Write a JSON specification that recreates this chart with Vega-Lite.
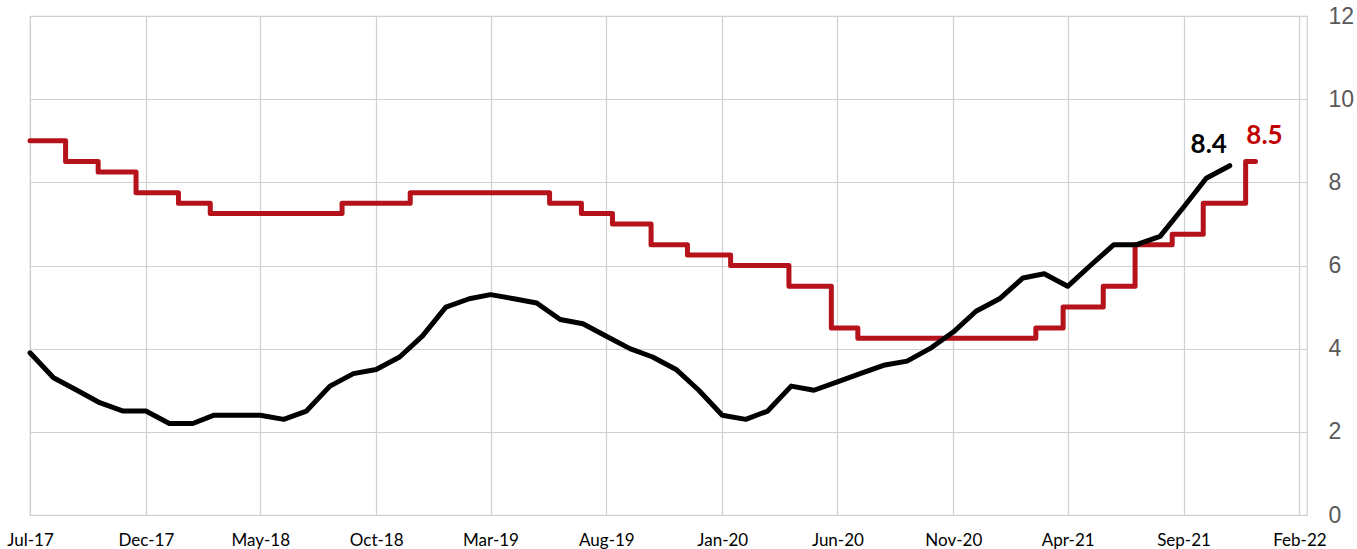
{
  "$schema": "https://vega.github.io/schema/vega-lite/v6.json",
  "width": 1277,
  "height": 499,
  "autosize": {"type": "none"},
  "padding": {"left": 30, "top": 16, "right": 50, "bottom": 34},
  "background": "white",
  "config": {
    "view": {"stroke": "#D0D0D0", "strokeWidth": 1.2},
    "axis": {"gridColor": "#D0D0D0", "gridWidth": 1.2}
  },
  "datasets": {
    "cpi": [
      {"date": "2017-07-01", "value": 3.9}, {"date": "2017-08-01", "value": 3.3}, {"date": "2017-09-01", "value": 3.0},
      {"date": "2017-10-01", "value": 2.7}, {"date": "2017-11-01", "value": 2.5}, {"date": "2017-12-01", "value": 2.5},
      {"date": "2018-01-01", "value": 2.2}, {"date": "2018-02-01", "value": 2.2}, {"date": "2018-03-01", "value": 2.4},
      {"date": "2018-04-01", "value": 2.4}, {"date": "2018-05-01", "value": 2.4}, {"date": "2018-06-01", "value": 2.3},
      {"date": "2018-07-01", "value": 2.5}, {"date": "2018-08-01", "value": 3.1}, {"date": "2018-09-01", "value": 3.4},
      {"date": "2018-10-01", "value": 3.5}, {"date": "2018-11-01", "value": 3.8}, {"date": "2018-12-01", "value": 4.3},
      {"date": "2019-01-01", "value": 5.0}, {"date": "2019-02-01", "value": 5.2}, {"date": "2019-03-01", "value": 5.3},
      {"date": "2019-04-01", "value": 5.2}, {"date": "2019-05-01", "value": 5.1}, {"date": "2019-06-01", "value": 4.7},
      {"date": "2019-07-01", "value": 4.6}, {"date": "2019-08-01", "value": 4.3}, {"date": "2019-09-01", "value": 4.0},
      {"date": "2019-10-01", "value": 3.8}, {"date": "2019-11-01", "value": 3.5}, {"date": "2019-12-01", "value": 3.0},
      {"date": "2020-01-01", "value": 2.4}, {"date": "2020-02-01", "value": 2.3}, {"date": "2020-03-01", "value": 2.5},
      {"date": "2020-04-01", "value": 3.1}, {"date": "2020-05-01", "value": 3.0}, {"date": "2020-06-01", "value": 3.2},
      {"date": "2020-07-01", "value": 3.4}, {"date": "2020-08-01", "value": 3.6}, {"date": "2020-09-01", "value": 3.7},
      {"date": "2020-10-01", "value": 4.0}, {"date": "2020-11-01", "value": 4.4}, {"date": "2020-12-01", "value": 4.9},
      {"date": "2021-01-01", "value": 5.2}, {"date": "2021-02-01", "value": 5.7}, {"date": "2021-03-01", "value": 5.8},
      {"date": "2021-04-01", "value": 5.5}, {"date": "2021-05-01", "value": 6.0}, {"date": "2021-06-01", "value": 6.5},
      {"date": "2021-07-01", "value": 6.5}, {"date": "2021-08-01", "value": 6.7}, {"date": "2021-09-01", "value": 7.4},
      {"date": "2021-10-01", "value": 8.1}, {"date": "2021-11-01", "value": 8.4}
    ],
    "rate": [
      {"date": "2017-07-01", "value": 9.0}, {"date": "2017-08-17", "value": 8.5}, {"date": "2017-09-29", "value": 8.25},
      {"date": "2017-11-18", "value": 7.75}, {"date": "2018-01-13", "value": 7.5}, {"date": "2018-02-24", "value": 7.25},
      {"date": "2018-08-17", "value": 7.5}, {"date": "2018-11-15", "value": 7.75}, {"date": "2019-05-18", "value": 7.5},
      {"date": "2019-06-29", "value": 7.25}, {"date": "2019-08-09", "value": 7.0}, {"date": "2019-09-29", "value": 6.5},
      {"date": "2019-11-16", "value": 6.25}, {"date": "2020-01-12", "value": 6.0}, {"date": "2020-03-29", "value": 5.5},
      {"date": "2020-05-24", "value": 4.5}, {"date": "2020-06-28", "value": 4.25}, {"date": "2021-02-18", "value": 4.5},
      {"date": "2021-03-26", "value": 5.0}, {"date": "2021-05-18", "value": 5.5}, {"date": "2021-06-29", "value": 6.5},
      {"date": "2021-08-17", "value": 6.75}, {"date": "2021-09-27", "value": 7.5}, {"date": "2021-11-22", "value": 8.5},
      {"date": "2021-12-05", "value": 8.5}
    ],
    "labels": [
      {"date": "2021-11-01", "value": 8.4, "label": "8.4", "series": "cpi"},
      {"date": "2021-12-05", "value": 8.5, "label": "8.5", "series": "rate"}
    ]
  },
  "encoding": {
    "x": {
      "field": "date", "type": "temporal",
      "scale": {"type": "utc", "domain": [{"year": 2017, "month": 7, "date": 1, "utc": true}, {"year": 2022, "month": 2, "date": 11, "utc": true}]},
      "axis": {
        "title": null, "orient": "bottom",
        "labelExpr": "utcFormat(datum.value, '%b-%y')",
        "values": [
          {"year": 2017, "month": 7, "date": 1, "utc": true}, {"year": 2017, "month": 12, "date": 1, "utc": true},
          {"year": 2018, "month": 5, "date": 1, "utc": true}, {"year": 2018, "month": 10, "date": 1, "utc": true},
          {"year": 2019, "month": 3, "date": 1, "utc": true}, {"year": 2019, "month": 8, "date": 1, "utc": true},
          {"year": 2020, "month": 1, "date": 1, "utc": true}, {"year": 2020, "month": 6, "date": 1, "utc": true},
          {"year": 2020, "month": 11, "date": 1, "utc": true}, {"year": 2021, "month": 4, "date": 1, "utc": true},
          {"year": 2021, "month": 9, "date": 1, "utc": true}, {"year": 2022, "month": 2, "date": 1, "utc": true}
        ],
        "grid": true, "domain": false, "ticks": false, "tickSize": 0,
        "labelFont": "Lato", "labelFontSize": 17, "labelColor": "#000000",
        "labelBaseline": "alphabetic", "labelPadding": 30, "labelFlush": false, "labelOverlap": false, "labelBound": false
      }
    },
    "y": {
      "field": "value", "type": "quantitative",
      "scale": {"domain": [0, 12], "nice": false, "zero": true},
      "axis": {
        "title": null, "orient": "right", "values": [0, 2, 4, 6, 8, 10, 12],
        "grid": true, "domain": false, "ticks": false, "tickSize": 0,
        "labelFont": "Liberation Sans", "labelFontSize": 23, "labelColor": "#595959",
        "labelAlign": "left", "labelBaseline": "middle", "labelPadding": 21
      }
    }
  },
  "layer": [
    {
      "data": {"name": "rate"},
      "mark": {"type": "line", "interpolate": "step-after", "color": "#B5121B", "strokeWidth": 5, "strokeJoin": "round", "strokeCap": "round"}
    },
    {
      "data": {"name": "cpi"},
      "mark": {"type": "line", "color": "#000000", "strokeWidth": 5, "strokeJoin": "round", "strokeCap": "round"}
    },
    {
      "data": {"name": "labels"},
      "transform": [{"filter": {"field": "series", "equal": "cpi"}}],
      "mark": {"type": "text", "font": "Lato", "fontWeight": "bold", "fontSize": 26, "color": "#000000", "align": "center", "baseline": "alphabetic", "dx": -21, "dy": -13},
      "encoding": {"text": {"field": "label"}}
    },
    {
      "data": {"name": "labels"},
      "transform": [{"filter": {"field": "series", "equal": "rate"}}],
      "mark": {"type": "text", "font": "Lato", "fontWeight": "bold", "fontSize": 26, "color": "#C00000", "align": "center", "baseline": "alphabetic", "dx": 9, "dy": -18},
      "encoding": {"text": {"field": "label"}}
    }
  ]
}
